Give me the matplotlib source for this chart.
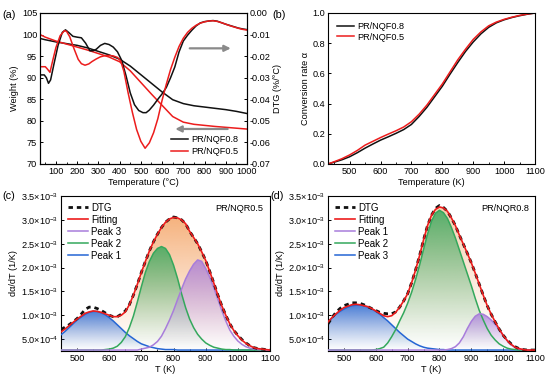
import numpy as np
import matplotlib
matplotlib.use('Agg')
import matplotlib.pyplot as plt
import matplotlib.colors as mcolors
from matplotlib.ticker import MultipleLocator, FixedLocator, FormatStrFormatter

plt.rcParams['font.family'] = ['Liberation Sans', 'DejaVu Sans']
plt.rcParams['mathtext.fontset'] = 'custom'
plt.rcParams['mathtext.rm'] = 'Liberation Sans'
plt.rcParams['mathtext.it'] = 'Liberation Sans:italic'
plt.rcParams['axes.unicode_minus'] = False
plt.rcParams['font.size'] = 6.6

# ---------------- (a) TG / DTG ----------------
t_w = [25, 50, 100, 150, 200, 250, 300, 350, 400, 450, 500, 550, 600, 650, 700, 750, 800, 850, 900, 950, 1000]
w_08 = [99.1, 98.8, 98.3, 97.9, 97.5, 96.9, 96.1, 95.3, 94.3, 92.7, 90.7, 88.7, 86.7, 84.9, 84.0, 83.5, 83.2, 82.9, 82.6, 82.2, 81.7]
w_05 = [100.0, 99.4, 98.5, 97.8, 97.1, 96.4, 95.6, 94.8, 93.7, 91.6, 88.9, 86.2, 83.6, 81.0, 79.7, 79.2, 78.95, 78.7, 78.5, 78.3, 78.1]

t_d08 = [25, 45, 55, 65, 75, 90, 110, 130, 145, 160, 180, 200, 220, 240, 260, 275, 290, 310, 330, 350, 370,
         390, 410, 430, 450, 470, 490, 510, 525, 540, 560, 580, 600, 620, 640, 660, 680, 700, 720, 740, 760,
         780, 800, 820, 840, 860, 880, 900, 920, 940, 960, 980, 1000]
dtg_08 = [-0.0287, -0.0287, -0.0300, -0.0326, -0.0310, -0.0240, -0.0150, -0.0090, -0.0078, -0.0090, -0.0108,
          -0.0112, -0.0115, -0.0140, -0.0175, -0.0175, -0.0168, -0.0150, -0.0141, -0.0146, -0.0158,
          -0.0180, -0.0220, -0.0290, -0.0370, -0.0425, -0.0452, -0.0462, -0.0462, -0.0450, -0.0427,
          -0.0400, -0.0375, -0.0345, -0.0300, -0.0250, -0.0180, -0.0130, -0.0103, -0.0080, -0.0060,
          -0.0046, -0.0040, -0.0037, -0.0035, -0.0038, -0.0045, -0.0052, -0.0058, -0.0064, -0.0070,
          -0.0074, -0.0077]

t_d05 = [25, 50, 60, 72, 85, 100, 120, 140, 150, 165, 185, 205, 220, 237, 255, 270, 290, 310, 330, 350, 370,
         390, 405, 420, 440, 460, 480, 500, 520, 540, 560, 580, 600, 620, 640, 660, 680, 700, 720, 740, 760,
         780, 800, 820, 840, 860, 880, 900, 920, 940, 960, 980, 1000]
dtg_05 = [-0.0249, -0.0249, -0.0260, -0.0275, -0.0220, -0.0160, -0.0105, -0.0082, -0.0085, -0.0110, -0.0165,
          -0.0215, -0.0235, -0.0242, -0.0236, -0.0225, -0.0213, -0.0203, -0.0198, -0.0197, -0.0199,
          -0.0206, -0.0222, -0.0270, -0.0370, -0.0460, -0.0540, -0.0595, -0.0627, -0.0602, -0.0555,
          -0.0490, -0.0405, -0.0330, -0.0262, -0.0205, -0.0155, -0.0117, -0.0090, -0.0071, -0.0057,
          -0.0047, -0.0041, -0.0037, -0.0036, -0.0039, -0.0045, -0.0052, -0.0059, -0.0065, -0.0071,
          -0.0076, -0.0079]

# ---------------- (b) conversion ----------------
t_k = [430, 450, 475, 500, 525, 550, 575, 600, 625, 650, 675, 700, 725, 750, 775, 800, 825, 850, 875, 900,
       925, 950, 975, 1000, 1025, 1050, 1075, 1100]
alpha_08 = [0.0, 0.012, 0.028, 0.048, 0.075, 0.105, 0.132, 0.158, 0.180, 0.203, 0.228, 0.262, 0.315, 0.375,
            0.445, 0.515, 0.595, 0.672, 0.745, 0.808, 0.862, 0.905, 0.935, 0.955, 0.970, 0.982, 0.992, 1.0]
alpha_05 = [0.0, 0.015, 0.035, 0.060, 0.090, 0.125, 0.150, 0.175, 0.198, 0.220, 0.245, 0.280, 0.330, 0.390,
            0.460, 0.530, 0.610, 0.690, 0.760, 0.825, 0.875, 0.915, 0.940, 0.958, 0.972, 0.984, 0.993, 1.0]

# ---------------- (c),(d) peak fitting, values in 1e-3 1/K ----------------
t_fit = [450, 462.5, 475, 487.5, 500, 512.5, 525, 537.5, 550, 562.5, 575, 587.5, 600, 612.5, 625, 637.5,
         650, 662.5, 675, 687.5, 700, 712.5, 725, 737.5, 750, 762.5, 775, 787.5, 800, 812.5, 825, 837.5,
         850, 862.5, 875, 887.5, 900, 912.5, 925, 937.5, 950, 962.5, 975, 987.5, 1000, 1012.5, 1025, 1037.5,
         1050, 1062.5, 1075, 1087.5, 1100]

# PR/NQR0.5
c_dtg = [0.70, 0.75, 0.80, 0.86, 0.93, 1.02, 1.12, 1.17, 1.17, 1.14, 1.10, 1.05, 1.00, 0.97, 0.97, 1.02,
         1.09, 1.22, 1.42, 1.65, 1.90, 2.13, 2.35, 2.54, 2.70, 2.84, 2.95, 3.02, 3.06, 3.04, 3.00, 2.92,
         2.76, 2.63, 2.50, 2.33, 2.15, 1.92, 1.68, 1.43, 1.20, 1.00, 0.82, 0.68, 0.58, 0.49, 0.42, 0.36,
         0.32, 0.30, 0.29, 0.28, 0.27]
c_fit = [0.65, 0.71, 0.78, 0.85, 0.92, 0.98, 1.04, 1.07, 1.09, 1.08, 1.06, 1.03, 1.00, 0.97, 0.97, 1.00,
         1.07, 1.22, 1.42, 1.65, 1.90, 2.13, 2.35, 2.54, 2.70, 2.84, 2.95, 3.02, 3.05, 3.04, 3.00, 2.92,
         2.76, 2.63, 2.50, 2.33, 2.15, 1.92, 1.68, 1.43, 1.20, 1.00, 0.82, 0.68, 0.57, 0.48, 0.41, 0.36,
         0.32, 0.30, 0.29, 0.28, 0.27]
c_p1 = [0.59, 0.66, 0.74, 0.82, 0.90, 0.96, 1.02, 1.06, 1.08, 1.08, 1.05, 1.01, 0.95, 0.88, 0.80, 0.72,
        0.64, 0.57, 0.51, 0.45, 0.40, 0.37, 0.34, 0.32, 0.30, 0.29, 0.28, 0.28, 0.28, 0.27, 0.27, 0.27,
        0.27, 0.27, 0.27, 0.27, 0.27, 0.27, 0.27, 0.27, 0.27, 0.27, 0.27, 0.27, 0.27, 0.27, 0.27, 0.27,
        0.27, 0.27, 0.27, 0.27, 0.27]
c_p2 = [0.27, 0.27, 0.27, 0.27, 0.27, 0.27, 0.27, 0.27, 0.27, 0.27, 0.27, 0.28, 0.29, 0.31, 0.35, 0.43,
        0.55, 0.74, 0.98, 1.28, 1.60, 1.90, 2.13, 2.30, 2.40, 2.44, 2.40, 2.27, 2.05, 1.77, 1.45, 1.16,
        0.92, 0.74, 0.60, 0.50, 0.42, 0.37, 0.33, 0.31, 0.29, 0.28, 0.28, 0.27, 0.27, 0.27, 0.27, 0.27,
        0.27, 0.27, 0.27, 0.27, 0.27]
c_p3 = [0.27, 0.27, 0.27, 0.27, 0.27, 0.27, 0.27, 0.27, 0.27, 0.27, 0.27, 0.27, 0.27, 0.27, 0.27, 0.27,
        0.27, 0.27, 0.27, 0.27, 0.29, 0.31, 0.33, 0.38, 0.45, 0.56, 0.72, 0.90, 1.10, 1.33, 1.55, 1.76,
        1.93, 2.07, 2.16, 2.13, 1.98, 1.80, 1.58, 1.34, 1.10, 0.88, 0.69, 0.56, 0.46, 0.39, 0.34, 0.31,
        0.29, 0.28, 0.28, 0.27, 0.27]

# PR/NQR0.8
d_dtg = [0.82, 0.95, 1.06, 1.14, 1.20, 1.23, 1.26, 1.26, 1.25, 1.22, 1.18, 1.14, 1.10, 1.06, 1.04, 1.03,
         1.03, 1.07, 1.17, 1.30, 1.45, 1.68, 1.95, 2.25, 2.58, 2.88, 3.10, 3.24, 3.30, 3.26, 3.18, 3.04,
         2.88, 2.68, 2.49, 2.30, 2.10, 1.88, 1.65, 1.42, 1.20, 1.02, 0.86, 0.71, 0.58, 0.48, 0.40, 0.34,
         0.30, 0.28, 0.27, 0.27, 0.27]
d_fit = [0.86, 0.95, 1.03, 1.10, 1.16, 1.19, 1.22, 1.23, 1.22, 1.20, 1.18, 1.14, 1.09, 1.04, 0.99, 0.97,
         0.99, 1.06, 1.17, 1.30, 1.45, 1.68, 1.95, 2.25, 2.58, 2.88, 3.10, 3.22, 3.27, 3.25, 3.18, 3.04,
         2.88, 2.68, 2.49, 2.30, 2.10, 1.88, 1.65, 1.42, 1.20, 1.02, 0.86, 0.71, 0.58, 0.47, 0.39, 0.33,
         0.30, 0.28, 0.27, 0.27, 0.27]
d_p1 = [0.27, 0.27, 0.27, 0.27, 0.27, 0.27, 0.27, 0.27, 0.27, 0.27, 0.27, 0.27, 0.27, 0.27, 0.27, 0.27,
        0.27, 0.27, 0.27, 0.27, 0.27, 0.27, 0.27, 0.27, 0.27, 0.27, 0.27, 0.27, 0.27, 0.27, 0.28, 0.30,
        0.34, 0.42, 0.55, 0.72, 0.87, 0.98, 1.03, 1.02, 0.97, 0.90, 0.81, 0.70, 0.58, 0.47, 0.38, 0.32,
        0.29, 0.28, 0.27, 0.27, 0.27]
d_p2 = [0.27, 0.27, 0.27, 0.27, 0.27, 0.27, 0.27, 0.27, 0.27, 0.27, 0.27, 0.27, 0.28, 0.30, 0.33, 0.42,
        0.55, 0.70, 0.88, 1.05, 1.25, 1.48, 1.75, 2.05, 2.38, 2.70, 2.97, 3.14, 3.20, 3.15, 3.03, 2.84,
        2.62, 2.37, 2.12, 1.87, 1.62, 1.35, 1.10, 0.90, 0.72, 0.58, 0.48, 0.40, 0.35, 0.31, 0.29, 0.28,
        0.27, 0.27, 0.27, 0.27, 0.27]
d_p3 = [0.86, 0.94, 1.02, 1.08, 1.13, 1.17, 1.20, 1.21, 1.21, 1.20, 1.17, 1.13, 1.08, 1.02, 0.95, 0.88,
        0.80, 0.72, 0.64, 0.57, 0.50, 0.45, 0.40, 0.36, 0.33, 0.31, 0.30, 0.29, 0.28, 0.28, 0.27, 0.27,
        0.27, 0.27, 0.27, 0.27, 0.27, 0.27, 0.27, 0.27, 0.27, 0.27, 0.27, 0.27, 0.27, 0.27, 0.27, 0.27,
        0.27, 0.27, 0.27, 0.27, 0.27]

yt_fit = [0.5e-3, 1.0e-3, 1.5e-3, 2.0e-3, 2.5e-3, 3.0e-3, 3.5e-3]
yt_fit_lab = [r'$5.0{\times}10^{-4}$', r'$1.0{\times}10^{-3}$', r'$1.5{\times}10^{-3}$', r'$2.0{\times}10^{-3}$',
              r'$2.5{\times}10^{-3}$', r'$3.0{\times}10^{-3}$', r'$3.5{\times}10^{-3}$']

BLACK = '#111111'
RED = '#ec1c1c'
BLUE = '#2566d4'
GREEN = '#34a85c'
PURPLE = '#a87ddb'
ORANGE = '#f39a55'
YBASE = 2.5e-4


def style(ax):
    ax.tick_params(direction='in', length=2.5, width=0.7, pad=2, labelsize=6.6)
    ax.tick_params(axis='x', pad=2.5)
    ax.tick_params(which='minor', direction='in', length=1.5, width=0.6)
    for s in ax.spines.values():
        s.set_linewidth(0.8)


def grad_fill(ax, x, y, color, amax, z):
    x = np.asarray(x)
    y = np.asarray(y) * 1e-3
    poly = ax.fill_between(x, YBASE, y, facecolor='none', edgecolor='none')
    img = np.zeros((256, 1, 4))
    img[:, 0, :3] = mcolors.to_rgb(color)
    img[:, 0, 3] = np.linspace(0.0, amax, 256) ** 1.2
    im = ax.imshow(img, extent=[x[0], x[-1], YBASE, y.max()], origin='lower',
                   aspect='auto', zorder=z, interpolation='bilinear')
    im.set_clip_path(poly.get_paths()[0], transform=ax.transData)


fig = plt.figure(figsize=(5.5, 3.84), dpi=100)

# ---- (a)
ax = fig.add_axes([40/550, 1-164/384, 207/550, 151/384])
ax2 = ax.twinx()
ax.plot(t_w, w_08, color=BLACK, lw=1.1, label='PR/NQF0.8')
ax.plot(t_w, w_05, color=RED, lw=1.1, label='PR/NQF0.5')
ax2.plot(t_d08, dtg_08, color=BLACK, lw=1.1)
ax2.plot(t_d05, dtg_05, color=RED, lw=1.1)
ax.set_xlim(25, 1000)
ax.set_ylim(70, 105)
ax2.set_ylim(-0.07, 0.0)
ax.xaxis.set_major_locator(MultipleLocator(100))
ax.xaxis.set_minor_locator(MultipleLocator(50))
ax.yaxis.set_major_locator(MultipleLocator(5))
ax2.yaxis.set_major_locator(MultipleLocator(0.01))
ax2.yaxis.set_major_formatter(FormatStrFormatter('%.2f'))
ax.set_xlabel('Temperature (°C)', labelpad=1)
ax.set_ylabel('Weight (%)', labelpad=2)
ax2.set_ylabel('DTG (%/°C)', labelpad=2)
style(ax)
style(ax2)
ax.legend(loc='lower right', bbox_to_anchor=(1.0, 0.0), frameon=False, fontsize=6.6,
          handlelength=1.8, handletextpad=0.4, labelspacing=0.3)
ax.annotate('', xy=(0.935, 0.766), xytext=(0.71, 0.766), xycoords='axes fraction',
            arrowprops=dict(arrowstyle='-|>', color='#8a8a8a', lw=1.6, mutation_scale=9))
ax.annotate('', xy=(0.64, 0.232), xytext=(0.92, 0.232), xycoords='axes fraction',
            arrowprops=dict(arrowstyle='-|>', color='#8a8a8a', lw=1.6, mutation_scale=9))
fig.text(2/550, 1-15/384, '(a)', fontsize=7.8, va='center')

# ---- (b)
bx = fig.add_axes([328/550, 1-164/384, 207/550, 151/384])
bx.plot(t_k, alpha_08, color=BLACK, lw=1.1, label='PR/NQF0.8')
bx.plot(t_k, alpha_05, color=RED, lw=1.1, label='PR/NQF0.5')
bx.set_xlim(430, 1100)
bx.set_ylim(0, 1.0)
bx.xaxis.set_major_locator(MultipleLocator(100))
bx.xaxis.set_minor_locator(MultipleLocator(50))
bx.yaxis.set_major_locator(MultipleLocator(0.2))
bx.yaxis.set_major_formatter(FormatStrFormatter('%.1f'))
bx.set_xlabel('Temperature (K)', labelpad=1)
bx.set_ylabel('Conversion rate α', labelpad=2)
style(bx)
bx.legend(loc='upper left', frameon=False, fontsize=6.6, handlelength=1.8,
          handletextpad=0.4, labelspacing=0.15, borderaxespad=0.6)
fig.text(272/550, 1-15/384, '(b)', fontsize=7.8, va='center')


# ---- (c), (d)
def fit_panel(rect, dtg, fit, peaks, order, name, tag, tagx, orange_a):
    cx = fig.add_axes(rect)
    grad_fill(cx, t_fit, fit, ORANGE, orange_a, 1)
    hs = {}
    for vals, col, lab in peaks:
        grad_fill(cx, t_fit, vals, col, 0.85, 2)
        hs[lab], = cx.plot(t_fit, np.array(vals) * 1e-3, color=col, lw=1.1, zorder=3)
    h_dtg, = cx.plot(t_fit, np.array(dtg) * 1e-3, color=BLACK, lw=2.0, ls=(0, (1.6, 1.4)), zorder=4)
    h_fit, = cx.plot(t_fit, np.array(fit) * 1e-3, color=RED, lw=1.2, zorder=5)
    handles = [h_dtg, h_fit] + [hs[o] for o in order]
    labels = ['DTG', 'Fitting'] + order
    cx.legend(handles, labels, loc='upper left', frameon=False, fontsize=7, handlelength=2.1,
              handletextpad=0.3, labelspacing=0.2, borderaxespad=0.3)
    cx.set_xlim(450, 1100)
    cx.set_ylim(YBASE, 3.5e-3)
    cx.xaxis.set_major_locator(MultipleLocator(100))
    cx.xaxis.set_minor_locator(MultipleLocator(50))
    cx.yaxis.set_major_locator(FixedLocator(yt_fit))
    cx.set_yticklabels(yt_fit_lab)
    cx.set_xlabel('T (K)', labelpad=1)
    cx.set_ylabel('dα/dT (1/K)', labelpad=2)
    cx.text(0.97, 0.95, name, transform=cx.transAxes, ha='right', va='top', fontsize=6.6)
    style(cx)
    fig.text(tagx/550, 1-196/384, tag, fontsize=7.8, va='center')


fit_panel([61/550, 33/384, 209/550, 155/384], c_dtg, c_fit,
          [(c_p1, BLUE, 'Peak 1'), (c_p2, GREEN, 'Peak 2'), (c_p3, PURPLE, 'Peak 3')],
          ['Peak 3', 'Peak 2', 'Peak 1'], 'PR/NQR0.5', '(c)', 2, 0.8)
fit_panel([328/550, 33/384, 207/550, 155/384], d_dtg, d_fit,
          [(d_p3, BLUE, 'Peak 3'), (d_p2, GREEN, 'Peak 2'), (d_p1, PURPLE, 'Peak 1')],
          ['Peak 1', 'Peak 2', 'Peak 3'], 'PR/NQR0.8', '(d)', 270, 0.55)

fig.savefig('out.png', dpi=100)
